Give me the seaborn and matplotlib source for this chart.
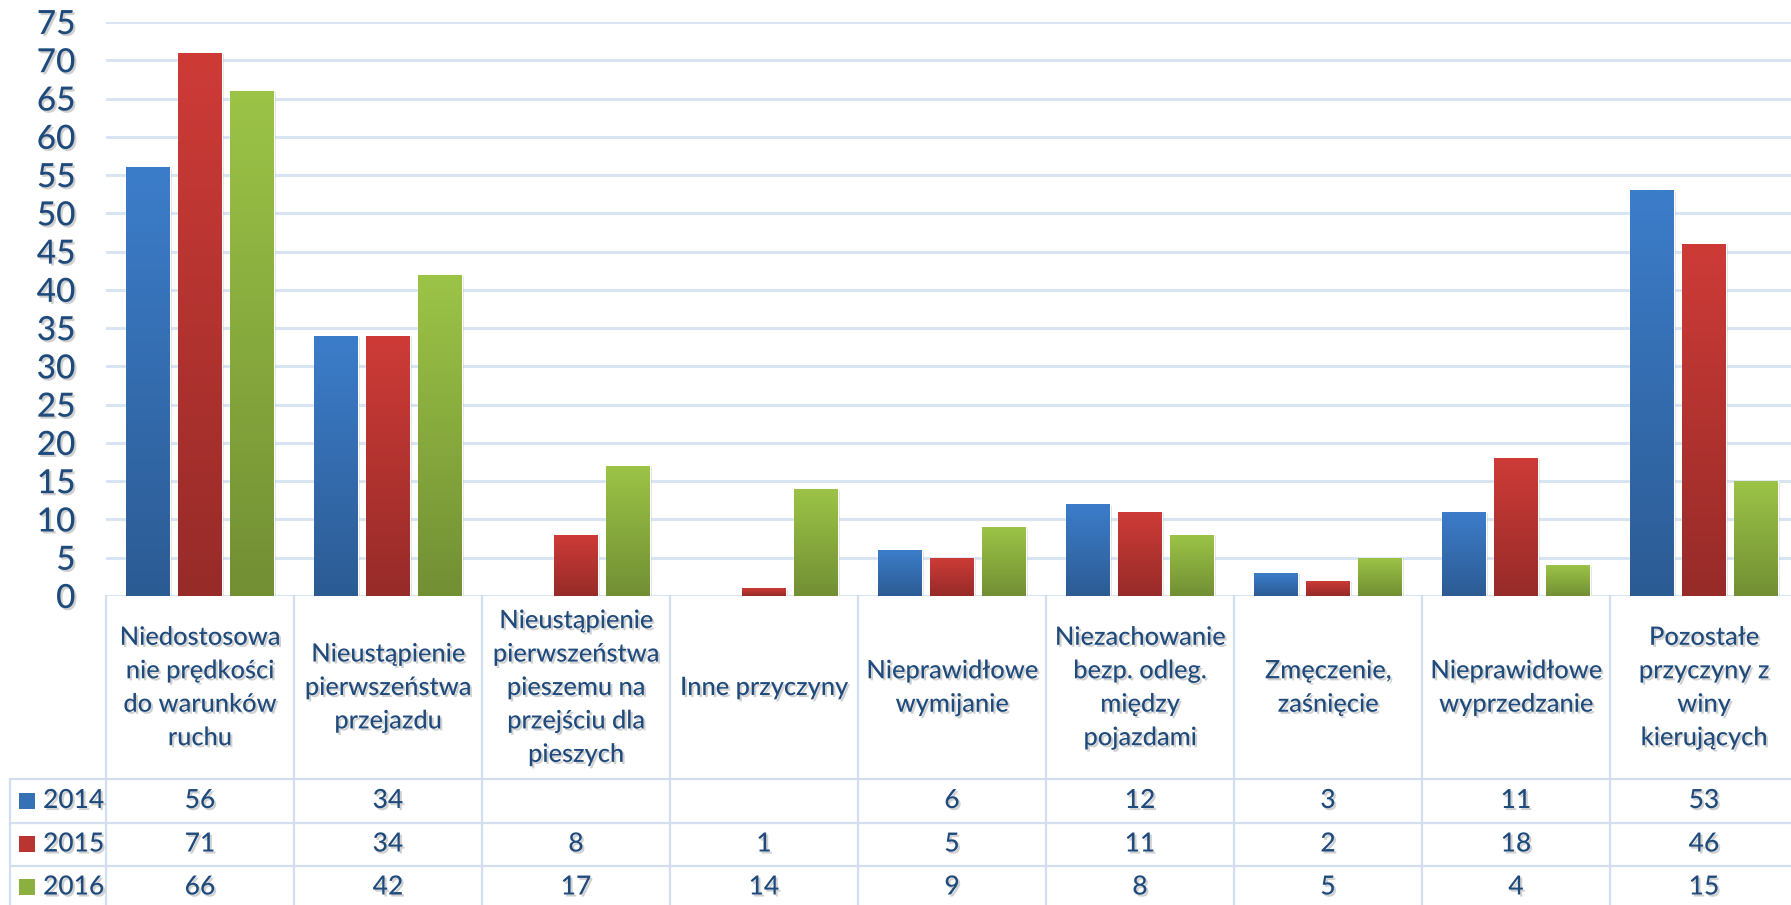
import numpy as np
import pandas as pd
import matplotlib
matplotlib.use('Agg')
import matplotlib.pyplot as plt
import matplotlib.patheffects as pe
from matplotlib.patches import Rectangle
import seaborn as sns

# dane
kategorie = [
    'Niedostosowa\nnie prędkości\ndo warunków\nruchu',
    'Nieustąpienie\npierwszeństwa\nprzejazdu',
    'Nieustąpienie\npierwszeństwa\npieszemu na\nprzejściu dla\npieszych',
    'Inne przyczyny',
    'Nieprawidłowe\nwymijanie',
    'Niezachowanie\nbezp. odleg.\nmiędzy\npojazdami',
    'Zmęczenie,\nzaśnięcie',
    'Nieprawidłowe\nwyprzedzanie',
    'Pozostałe\nprzyczyny z\nwiny\nkierujących',
]
lata = ['2014', '2015', '2016']
w2014 = [56, 34, None, None, 6, 12, 3, 11, 53]
w2015 = [71, 34, 8, 1, 5, 11, 2, 18, 46]
w2016 = [66, 42, 17, 14, 9, 8, 5, 4, 15]
yticks = list(range(0, 80, 5))

kolory = ['#3C7DCA', '#CE3B37', '#9CC447']
tekst = '#1F4A7C'
linia = '#D3DFEE'

sns.set_style('white')
plt.rcParams['font.family'] = ['Lato', 'DejaVu Sans']
plt.rcParams['font.weight'] = 'medium'

wiersze = []
for rok, vals in zip(lata, [w2014, w2015, w2016]):
    for i, v in enumerate(vals):
        if v is not None:
            wiersze.append({'kat': i, 'rok': rok, 'wartosc': v})
df = pd.DataFrame(wiersze)

W, H = 1791, 905
fig = plt.figure(figsize=(W / 100, H / 100), dpi=100)
left = 106 / W
width = 1692 / W
ax = fig.add_axes([left, 1 - 596 / H, width, (596 - 22) / H])
tab = fig.add_axes([left, 0, width, 309 / H])

cien = [pe.SimplePatchShadow(offset=(2, -1), alpha=0.18, shadow_rgbFace='#555555'), pe.Normal()]
cien_txt = [pe.SimplePatchShadow(offset=(1.5, -1.5), alpha=0.3, shadow_rgbFace='#666666'), pe.Normal()]

sns.barplot(data=df, x='kat', y='wartosc', hue='rok', hue_order=lata, order=list(range(9)),
            palette=kolory, saturation=1, width=0.83, gap=0.17, errorbar=None,
            legend=False, ax=ax, zorder=3)

# gradient na slupkach
grad = np.linspace(0, 1, 256).reshape(-1, 1)
for p in list(ax.patches):
    h = p.get_height()
    if not np.isfinite(h) or h <= 0:
        continue
    c = np.array(matplotlib.colors.to_rgb(p.get_facecolor()))
    img = c[None, None, :] * (1 - 0.27 * grad[:, :, None])
    img = img[::-1]  # ciemniej na dole
    x0 = p.get_x()
    p.set_path_effects(cien)
    im = ax.imshow(img, extent=[x0, x0 + p.get_width(), 0, h], aspect='auto',
                   origin='lower', zorder=4, interpolation='bilinear')
    im.set_clip_path(p)

ax.set_xlim(-0.5, 8.5)
ax.set_ylim(0, 75)
ax.set_yticks(yticks)
ax.set_yticklabels([str(t) for t in yticks], color=tekst, fontsize=24)
for t in ax.get_yticklabels():
    t.set_path_effects(cien_txt)
ax.tick_params(axis='y', length=0, pad=22)
ax.set_xticks([])
ax.set_xlabel('')
ax.set_ylabel('')
ax.yaxis.grid(True, color='#D9E4F2', lw=2.2, zorder=0)
ax.set_axisbelow(True)
for s in ax.spines.values():
    s.set_visible(False)

# tabela
tab.set_xlim(-0.5, 8.5)
tab.set_ylim(309, 0)
tab.axis('off')
kol = 1692 / 9
lx = -0.5 - 96 / kol
for k in range(10):
    tab.plot([k - 0.5, k - 0.5], [0, 320], color=linia, lw=1.6, clip_on=False)
tab.plot([lx, lx], [183, 320], color=linia, lw=1.6, clip_on=False)
for y in [183, 226.5, 270]:
    tab.plot([lx, 8.5], [y, y], color=linia, lw=1.6, clip_on=False)

for i, k in enumerate(kategorie):
    tab.text(i, 91.5, k, ha='center', va='center', fontsize=18.3, color=tekst,
             linespacing=1.55, path_effects=cien_txt)

yr = [204.5, 248, 291]
for r, (rok, vals) in enumerate(zip(lata, [w2014, w2015, w2016])):
    c = np.array(matplotlib.colors.to_rgb(kolory[r]))
    sq = Rectangle((-0.5 - 87 / kol, yr[r] - 8), 16 / kol, 16, facecolor=c * 0.9,
                   edgecolor='none', clip_on=False)
    tab.add_patch(sq)
    tab.text(-0.5 - 63 / kol, yr[r], rok, ha='left', va='center', fontsize=19,
             color=tekst, path_effects=cien_txt, clip_on=False)
    for i, v in enumerate(vals):
        if v is not None:
            tab.text(i, yr[r], str(v), ha='center', va='center', fontsize=19,
                     color=tekst, path_effects=cien_txt)

fig.savefig('out.png', dpi=100)
